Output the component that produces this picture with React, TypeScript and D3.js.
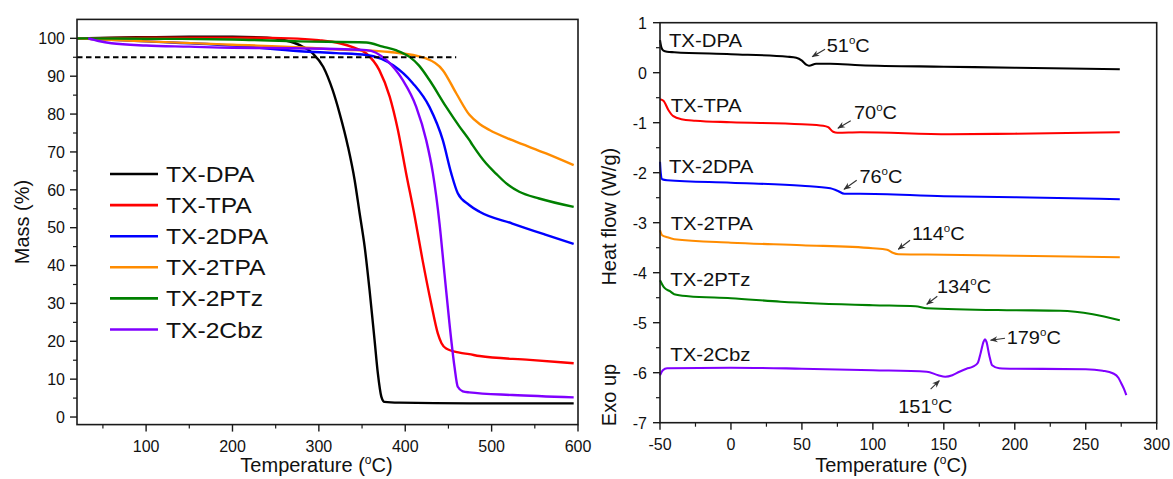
import React from "react";
import * as d3 from "d3";

const W = 1173;
const H = 479;
const FONT = "Arial, 'Liberation Sans', Helvetica, sans-serif";

// ---------- shared series ----------
const seriesNames = ["TX-DPA", "TX-TPA", "TX-2DPA", "TX-2TPA", "TX-2PTz", "TX-2Cbz"];
const seriesColors = ["#000000", "#ff0000", "#0000ff", "#ff8c00", "#008000", "#8000ff"];

// ---------- TGA (temperature °C, mass %) ----------
const tgaDPA: [number, number][] = [
  [20, 100], [60, 100.2], [100, 100.3], [150, 100.4], [200, 100.4], [240, 100.2], [260, 99.5],
  [278, 98.2], [293, 96.0], [305, 92.5], [316, 86.3], [324, 80.2], [333.7, 71.4], [341.4, 62.6],
  [347.2, 53.8], [353, 45], [358.7, 33.5], [364.5, 20.3], [368.3, 11.5], [372.3, 5.4], [376, 4.0],
  [393, 3.8], [474, 3.6], [595, 3.6],
];
const tgaTPA: [number, number][] = [
  [20, 100], [100, 100.2], [200, 100.2], [266, 100], [300, 99.5], [324, 98.7], [340, 97.6],
  [355, 96.0], [370, 91.6], [382, 84.6], [391.5, 75.8], [401, 64.4], [411, 52.9], [420, 41.5],
  [430, 30], [437.7, 22.1], [442, 19.5], [447.4, 18.1], [462.8, 17], [474, 16.6], [486, 16.1],
  [544, 15.1], [595, 14.2],
];
const tga2DPA: [number, number][] = [
  [20, 100], [100, 99.2], [200, 98.1], [278, 96.6], [320, 96.1], [355, 95.6], [386, 92.9],
  [409, 88.1], [428, 81.9], [443.5, 73.1], [453.2, 64.4], [460.8, 59.1], [474, 56], [486, 54.2],
  [524, 51.1], [563, 48.1], [595, 45.7],
];
const tga2TPA: [number, number][] = [
  [20, 100], [50, 99.7], [100, 99.2], [200, 98.3], [282, 97.6], [316, 97.1], [343, 96.9],
  [382, 96.4], [424, 94.7], [443.5, 91.6], [459, 85.5], [474.3, 79.8], [486, 77.4], [497.5, 75.8],
  [524, 73.1], [563, 69.6], [595, 66.5],
];
const tga2PTz: [number, number][] = [
  [20, 100], [100, 99.9], [200, 99.7], [278, 99.2], [355, 98.9], [374, 97.8], [390, 96.8],
  [405, 95.1], [416, 92.8], [428, 89], [447.4, 81.9], [462.8, 76.7], [474.3, 73.1], [478, 71.8],
  [493.5, 67], [505, 64.3], [517, 61.7], [532, 59.5], [555, 57.7], [595, 55.5],
];
const tga2Cbz: [number, number][] = [
  [33, 100], [45, 99.3], [60, 98.7], [100, 98.1], [150, 97.8], [200, 97.5], [270, 97.4],
  [355, 96.9], [378, 94.3], [397, 89], [412.7, 81.9], [424.3, 73.1], [432, 64.4], [439.7, 51.1],
  [445.4, 37.9], [451.2, 24.7], [457, 13.3], [460.8, 8], [466.6, 6.8], [474, 6.5], [524, 5.8],
  [595, 5.2],
];
const tgaData = [tgaDPA, tgaTPA, tga2DPA, tga2TPA, tga2PTz, tga2Cbz];

const tgaXTicks = [100, 200, 300, 400, 500, 600];
const tgaXMinor = [50, 150, 250, 350, 450, 550];
const tgaYTicks = [0, 10, 20, 30, 40, 50, 60, 70, 80, 90, 100];
const tgaYMinor = [5, 15, 25, 35, 45, 55, 65, 75, 85, 95];
const thresholdLine: [number, number][] = [[20, 95], [459, 95]];

// ---------- DSC (temperature °C, heat flow W/g) ----------
const dscDPA: [number, number][] = [
  [-50, 0.65], [-49, 0.5], [-47.6, 0.44], [-45, 0.42], [-40, 0.41], [0, 0.37], [40, 0.32],
  [46, 0.3], [50, 0.24], [53, 0.16], [55, 0.14], [60, 0.18], [70, 0.18], [91, 0.15],
  [150, 0.12], [200, 0.1], [274, 0.07],
];
const dscTPA: [number, number][] = [
  [-50, -0.53], [-47.6, -0.56], [-44, -0.75], [-40.6, -0.87], [-35, -0.93], [-25, -0.96],
  [0, -0.99], [50, -1.03], [65, -1.06], [68.5, -1.09], [72, -1.18], [75, -1.2], [91, -1.19],
  [154, -1.23], [200, -1.22], [274, -1.19],
];
const dsc2DPA: [number, number][] = [
  [-50, -1.78], [-49.5, -2.0], [-48.5, -2.13], [-45, -2.15], [0, -2.2], [50, -2.26], [70, -2.31],
  [75, -2.36], [80, -2.42], [91, -2.42], [150, -2.47], [200, -2.49], [274, -2.53],
];
const dsc2TPA: [number, number][] = [
  [-50, -3.15], [-48.5, -3.25], [-45, -3.29], [-40, -3.33], [0, -3.4], [50, -3.45], [100, -3.51],
  [110, -3.54], [114, -3.6], [118, -3.63], [150, -3.64], [200, -3.66], [274, -3.69],
];
const dsc2PTz: [number, number][] = [
  [-50, -4.15], [-47, -4.3], [-43, -4.37], [-40, -4.43], [-30, -4.47], [0, -4.51], [35, -4.58],
  [100, -4.65], [130, -4.67], [138, -4.71], [196, -4.75], [232, -4.76], [255, -4.83], [274, -4.95],
];
const dsc2Cbz: [number, number][] = [
  [-50, -6.05], [-48, -5.95], [-45, -5.91], [0, -5.9], [50, -5.92], [100, -5.95], [138, -5.98],
  [146, -6.05], [151, -6.08], [156, -6.05], [161, -5.98], [166, -5.92], [170.5, -5.88],
  [174, -5.8], [176, -5.6], [178, -5.38], [179, -5.33], [180, -5.38], [182, -5.65], [184, -5.85],
  [189, -5.91], [200, -5.92], [250, -5.93], [262, -5.96], [269, -6.01], [273, -6.1], [275, -6.21],
  [277, -6.33], [278.6, -6.45],
];
const dscData = [dscDPA, dscTPA, dsc2DPA, dsc2TPA, dsc2PTz, dsc2Cbz];
const dscLabelPos: [number, number][] = [
  [-43.7, 0.514], [-42.5, -0.786], [-43.7, -2.006], [-42.5, -3.146], [-42.8, -4.266], [-42.8, -5.76],
];
const dscAnnots = [
  { label: "51", tip: [57.3, 0.32], tail: [66.3, 0.47], text: [67.5, 0.42] },
  { label: "70", tip: [75.4, -1.11], tail: [84.4, -0.96], text: [86.7, -0.93] },
  { label: "76", tip: [79.7, -2.33], tail: [88.6, -2.15], text: [90.5, -2.2] },
  { label: "114", tip: [117.9, -3.53], tail: [126.2, -3.35], text: [127.6, -3.35] },
  { label: "134", tip: [138, -4.63], tail: [145.4, -4.47], text: [145.2, -4.41] },
  { label: "179", tip: [183, -5.35], tail: [193.1, -5.31], text: [194.3, -5.43] },
  { label: "151", tip: [146.8, -6.16], tail: [140.7, -6.33], text: [117.9, -6.81] },
];
const dscXTicks = [-50, 0, 50, 100, 150, 200, 250, 300];
const dscXMinor = [-25, 25, 75, 125, 175, 225, 275];
const dscYTicks = [-7, -6, -5, -4, -3, -2, -1, 0, 1];
const dscYMinor = [-6.5, -5.5, -4.5, -3.5, -2.5, -1.5, -0.5, 0.5];

const AXIS = "#1a1a1a";

function Deg({ size }: { size: number }) {
  const s = Math.round(size * 0.6);
  const dy = Math.round(size * 0.4);
  return (
    <>
      <tspan dy={-dy} fontSize={s}>o</tspan>
      <tspan dy={dy}>C</tspan>
    </>
  );
}

function Frame({ x0, x1, y0, y1 }: { x0: number; x1: number; y0: number; y1: number }) {
  return <rect x={x0} y={y0} width={x1 - x0} height={y1 - y0} fill="none" stroke={AXIS} strokeWidth={1.6} />;
}

export default function App() {
  // ---------- left panel scales ----------
  const xL = d3.scaleLinear().domain([20, 600]).range([77, 578]);
  const yL = d3.scaleLinear().domain([-2, 105]).range([424.6, 19.4]);
  const lineL = d3
    .line<[number, number]>()
    .x((d) => xL(d[0]))
    .y((d) => yL(d[1]))
    .curve(d3.curveMonotoneX);
  const straightL = d3
    .line<[number, number]>()
    .x((d) => xL(d[0]))
    .y((d) => yL(d[1]));

  // ---------- right panel scales ----------
  const xR = d3.scaleLinear().domain([-50, 300]).range([660, 1156.7]);
  const yR = d3.scaleLinear().domain([-7, 1]).range([422.7, 22.7]);
  const lineR = d3
    .line<[number, number]>()
    .x((d) => xR(d[0]))
    .y((d) => yR(d[1]))
    .curve(d3.curveMonotoneX);

  const [lx0, lx1] = xL.range();
  const [ly0, ly1] = [yL.range()[1], yL.range()[0]];
  const [rx0, rx1] = xR.range();
  const [ry0, ry1] = [yR.range()[1], yR.range()[0]];

  const legendRowY = (i: number) => 174 + i * 31.1;

  return (
    <div style={{ position: "fixed", left: 0, top: 0, width: W, height: H, background: "#fff" }}>
      <svg width={W} height={H} style={{ display: "block" }} fontFamily={FONT}>
        <defs>
          <marker id="ah" viewBox="0 0 10 10" refX="9" refY="5" markerWidth="7" markerHeight="7" orient="auto">
            <path d="M0,1 L10,5 L0,9 L3,5 Z" fill="#333" />
          </marker>
        </defs>
        <rect x={0} y={0} width={W} height={H} fill="#fff" />

        {/* ================= LEFT: TGA ================= */}
        <g>
          {tgaData.map((d, i) => (
            <path key={i} d={lineL(d) || ""} fill="none" stroke={seriesColors[i]} strokeWidth={2.4} strokeLinejoin="round" />
          ))}
          <path d={straightL(thresholdLine) || ""} fill="none" stroke="#000" strokeWidth={1.8} strokeDasharray="5.5,3.5" />
          <Frame x0={lx0} x1={lx1} y0={ly0} y1={ly1} />
          {/* x ticks */}
          {tgaXTicks.map((t) => (
            <g key={"lx" + t}>
              <line x1={xL(t)} x2={xL(t)} y1={ly1} y2={ly1 + 7} stroke={AXIS} strokeWidth={1.4} />
              <text x={xL(t)} y={ly1 + 27.5} textAnchor="middle" fontSize={16} fill="#111">{t}</text>
            </g>
          ))}
          {tgaXMinor.map((t) => (
            <line key={"lxm" + t} x1={xL(t)} x2={xL(t)} y1={ly1} y2={ly1 + 4} stroke={AXIS} strokeWidth={1.2} />
          ))}
          {/* y ticks */}
          {tgaYTicks.map((t) => (
            <g key={"ly" + t}>
              <line x1={lx0 - 7} x2={lx0} y1={yL(t)} y2={yL(t)} stroke={AXIS} strokeWidth={1.4} />
              <text x={lx0 - 12} y={yL(t) + 5.8} textAnchor="end" fontSize={16} fill="#111">{t}</text>
            </g>
          ))}
          {tgaYMinor.map((t) => (
            <line key={"lym" + t} x1={lx0 - 4} x2={lx0} y1={yL(t)} y2={yL(t)} stroke={AXIS} strokeWidth={1.2} />
          ))}
          {/* axis titles */}
          <text x={(lx0 + lx1) / 2 - 11} y={472} textAnchor="middle" fontSize={20} fill="#111">
            Temperature (<Deg size={20} />)
          </text>
          <text transform={`translate(29,${(ly0 + ly1) / 2}) rotate(-90)`} textAnchor="middle" fontSize={20} fill="#111">
            Mass (%)
          </text>
          {/* legend */}
          {seriesNames.map((n, i) => (
            <g key={"lg" + n}>
              <line x1={110} x2={158} y1={legendRowY(i)} y2={legendRowY(i)} stroke={seriesColors[i]} strokeWidth={2.6} />
              <text transform={`translate(166,${legendRowY(i) + 8}) scale(1.12,1)`} fontSize={22} fill="#111">{n}</text>
            </g>
          ))}
        </g>

        {/* ================= RIGHT: DSC ================= */}
        <g>
          {dscData.map((d, i) => (
            <path key={i} d={lineR(d) || ""} fill="none" stroke={seriesColors[i]} strokeWidth={2.1} strokeLinejoin="round" />
          ))}
          <Frame x0={rx0} x1={rx1} y0={ry0} y1={ry1} />
          {dscXTicks.map((t) => (
            <g key={"rx" + t}>
              <line x1={xR(t)} x2={xR(t)} y1={ry1} y2={ry1 + 7} stroke={AXIS} strokeWidth={1.4} />
              <text x={xR(t)} y={ry1 + 27.5} textAnchor="middle" fontSize={16} fill="#111">{t}</text>
            </g>
          ))}
          {dscXMinor.map((t) => (
            <line key={"rxm" + t} x1={xR(t)} x2={xR(t)} y1={ry1} y2={ry1 + 4} stroke={AXIS} strokeWidth={1.2} />
          ))}
          {dscYTicks.map((t) => (
            <g key={"ry" + t}>
              <line x1={rx0 - 7} x2={rx0} y1={yR(t)} y2={yR(t)} stroke={AXIS} strokeWidth={1.4} />
              <text x={rx0 - 13} y={yR(t) + 5.8} textAnchor="end" fontSize={16} fill="#111">{t}</text>
            </g>
          ))}
          {dscYMinor.map((t) => (
            <line key={"rym" + t} x1={rx0 - 4} x2={rx0} y1={yR(t)} y2={yR(t)} stroke={AXIS} strokeWidth={1.2} />
          ))}
          <text x={(rx0 + rx1) / 2 - 17} y={472} textAnchor="middle" fontSize={20} fill="#111">
            Temperature (<Deg size={20} />)
          </text>
          <text transform={`translate(616,216.7) rotate(-90)`} textAnchor="middle" fontSize={20} fill="#111">
            Heat flow (W/g)
          </text>
          <text transform={`translate(616,395) rotate(-90)`} textAnchor="middle" fontSize={20} fill="#111">
            Exo up
          </text>
          {/* series labels */}
          {seriesNames.map((n, i) => (
            <text key={"rl" + n} transform={`translate(${xR(dscLabelPos[i][0])},${yR(dscLabelPos[i][1])}) scale(1.1,1)`} fontSize={18.5} fill="#111">
              {n}
            </text>
          ))}
          {/* annotations */}
          {dscAnnots.map((a) => (
            <g key={"an" + a.label}>
              <line
                x1={xR(a.tail[0])}
                y1={yR(a.tail[1])}
                x2={xR(a.tip[0])}
                y2={yR(a.tip[1])}
                stroke="#333"
                strokeWidth={1.1}
                markerEnd="url(#ah)"
              />
              <text transform={`translate(${xR(a.text[0])},${yR(a.text[1])}) scale(1.05,1)`} fontSize={19} fill="#111">
                {a.label}
                <Deg size={19} />
              </text>
            </g>
          ))}
        </g>
      </svg>
    </div>
  );
}
